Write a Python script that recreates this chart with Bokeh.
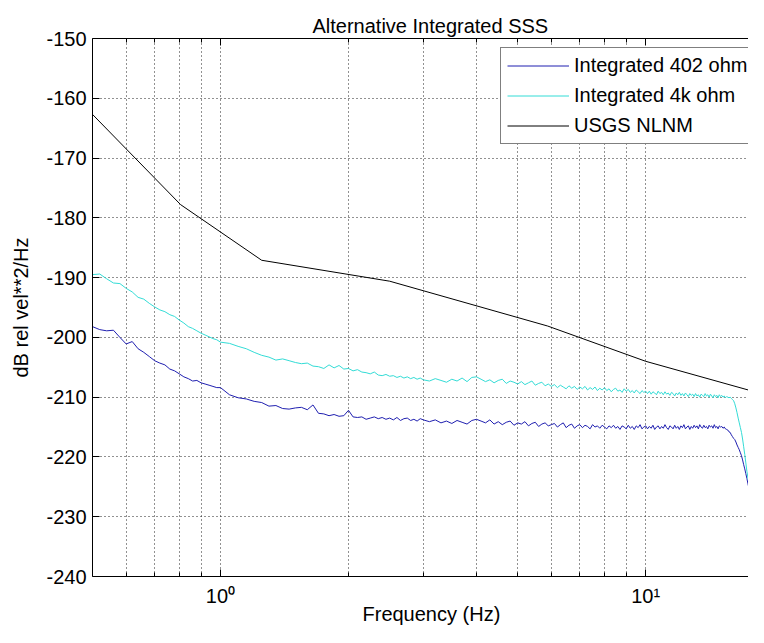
from bokeh.plotting import figure
from bokeh.models import FixedTicker, LogAxis, Legend, LegendItem, Title
from bokeh.embed import file_html
from bokeh.resources import INLINE

TITLE = "Alternative Integrated SSS"
X_LABEL = "Frequency (Hz)"
Y_LABEL = "dB rel vel**2/Hz"
X_MIN, X_MAX = 0.5, 17.45
Y_MIN, Y_MAX = -240, -150
Y_TICKS = [-240, -230, -220, -210, -200, -190, -180, -170, -160, -150]
X_MAJOR = [1, 10]
X_MINOR = [0.6, 0.7, 0.8, 0.9, 2, 3, 4, 5, 6, 7, 8, 9]
X_TICK_LABELS = {1: "10\u2070", 10: "10\u00b9"}
SERIES_NAMES = ["Integrated 402 ohm", "Integrated 4k ohm", "USGS NLNM"]

FREQ_LOW = [0.50, 0.52, 0.54, 0.56, 0.58, 0.60, 0.62, 0.64, 0.66, 0.68,
            0.70, 0.72, 0.74, 0.76, 0.78, 0.80, 0.82, 0.84, 0.86, 0.88,
            0.90, 0.92, 0.94, 0.96, 0.98, 1.00]
FREQ_MID = [1.05, 1.10, 1.15, 1.20, 1.25, 1.30, 1.35, 1.40, 1.45, 1.50,
            1.55, 1.60, 1.65, 1.70, 1.75, 1.80, 1.85, 1.90, 1.95, 2.00,
            2.05, 2.10, 2.15, 2.20, 2.25, 2.30, 2.35, 2.40, 2.45, 2.50,
            2.55, 2.60, 2.65, 2.70, 2.75, 2.80, 2.85, 2.90, 2.95, 3.00]
FREQ_HIGH = [3.1, 3.2, 3.3, 3.4, 3.5, 3.6, 3.7, 3.8, 3.9, 4.0,
             4.1, 4.2, 4.3, 4.4, 4.5, 4.6, 4.7, 4.8, 4.9, 5.0,
             5.1, 5.2, 5.3, 5.4, 5.5, 5.6, 5.7, 5.8, 5.9, 6.0,
             6.1, 6.2, 6.3, 6.4, 6.5, 6.6, 6.7, 6.8, 6.9, 7.0,
             7.1, 7.2, 7.3, 7.4, 7.5, 7.6, 7.7, 7.8, 7.9, 8.0,
             8.1, 8.2, 8.3, 8.4, 8.5, 8.6, 8.7, 8.8, 8.9, 9.0,
             9.1, 9.2, 9.3, 9.4, 9.5, 9.6, 9.7, 9.8, 9.9, 10.0,
             10.1, 10.2, 10.3, 10.4, 10.5, 10.6, 10.7, 10.8, 10.9, 11.0,
             11.1, 11.2, 11.3, 11.4, 11.5, 11.6, 11.7, 11.8, 11.9, 12.0,
             12.1, 12.2, 12.3, 12.4, 12.5, 12.6, 12.7, 12.8, 12.9, 13.0,
             13.1, 13.2, 13.3, 13.4, 13.5, 13.6, 13.7, 13.8, 13.9, 14.0,
             14.1, 14.2, 14.3, 14.4, 14.5, 14.6, 14.7, 14.8, 14.9, 15.0,
             15.1, 15.2, 15.3, 15.4, 15.5, 15.6, 15.7, 15.8, 15.9, 16.0,
             16.1, 16.2, 16.3, 16.4, 16.5, 16.6, 16.7, 16.8, 16.9, 17.0,
             17.1, 17.2, 17.3, 17.4, 17.5, 17.6, 17.7, 17.8, 17.9, 18.0,
             18.1, 18.2, 18.3, 18.4, 18.5, 18.6, 18.7, 18.8, 18.9]

R402_LOW = [-198.2, -198.7, -198.9, -198.8, -200.0, -201.1, -200.7, -201.9, -202.5, -203.2,
            -203.9, -204.3, -204.6, -205.3, -205.6, -206.1, -206.6, -206.9, -207.3, -207.2,
            -207.6, -207.8, -208.0, -208.2, -208.4, -208.4]
R402_MID = [-209.6, -210.1, -210.3, -210.7, -210.9, -211.5, -211.4, -211.9, -212.0, -211.8,
            -211.7, -212.1, -211.3, -212.7, -212.8, -213.1, -212.9, -213.2, -213.1, -212.2,
            -213.3, -213.4, -213.3, -213.7, -213.5, -213.3, -213.6, -213.4, -213.7, -213.5,
            -213.8, -213.4, -213.9, -213.6, -213.5, -213.9, -213.7, -214.0, -213.6, -213.8]
R402_HIGH = [-214.1, -213.8, -214.3, -214.0, -214.4, -213.9, -214.2, -214.5, -213.9, -213.7,
             -214.0, -214.3, -213.8, -214.5, -214.1, -214.6, -214.2, -214.0, -214.7, -214.3,
             -214.5, -214.1, -214.8, -214.4, -214.2, -214.9, -214.5, -214.3, -214.8, -214.6,
             -214.4, -215.0, -214.6, -214.3, -215.1, -214.7, -214.5, -215.2, -214.8, -214.6,
             -215.1, -214.7, -214.9, -215.3, -214.6, -215.0, -214.8, -215.2, -214.7, -215.0,
             -215.3, -214.8, -215.1, -214.7, -215.2, -214.9, -215.4, -214.8, -215.0, -215.3,
             -214.7, -215.2, -214.9, -215.4, -214.8, -215.1, -214.6, -215.3, -215.0, -214.8,
             -215.3, -214.9, -215.2, -214.7, -215.4, -215.0, -214.8, -215.3, -214.9, -215.2,
             -214.6, -215.1, -215.4, -214.8, -215.0, -215.3, -214.7, -215.2, -214.9, -215.4,
             -214.8, -215.1, -214.6, -215.3, -215.0, -214.8, -215.4, -214.9, -215.2, -214.7,
             -215.1, -214.8, -215.3, -214.6, -215.0, -215.2, -214.7, -215.1, -214.9, -215.3,
             -214.7, -215.0, -214.8, -215.2, -214.6, -215.1, -214.9, -215.3, -214.8, -215.0,
             -214.9, -215.2, -215.0, -215.3, -215.4, -215.5, -215.8, -215.9, -216.3, -216.6,
             -216.9, -217.1, -217.5, -218.0, -218.4, -218.8, -219.3, -219.8, -220.5, -221.3,
             -222.0, -222.8, -223.6, -224.5, -225.3, -226.1, -226.9, -227.6, -228.1, -228.5,
             -228.8, -229.0, -229.1, -229.2, -229.3, -229.3, -229.4, -229.5, -229.5]

R4K_LOW = [-189.5, -189.4, -190.2, -190.9, -191.0, -191.8, -192.4, -193.3, -193.6, -194.3,
           -194.9, -195.4, -195.7, -196.2, -196.5, -197.1, -197.6, -198.2, -198.5, -198.9,
           -199.3, -199.6, -199.9, -200.2, -200.4, -200.8]
R4K_MID = [-201.0, -201.5, -201.9, -202.5, -203.0, -203.3, -203.8, -203.6, -203.9, -204.2,
           -204.4, -204.3, -204.8, -204.9, -205.2, -204.6, -205.1, -204.7, -205.3, -205.2,
           -205.6, -205.4, -205.8, -205.9, -206.1, -205.8, -206.3, -206.4, -206.2, -206.5,
           -206.4, -206.7, -206.5, -206.8, -206.6, -206.9, -206.7, -207.0, -206.8, -207.1]
R4K_HIGH = [-207.3, -206.9, -207.2, -207.5, -207.0, -207.3, -206.8, -207.4, -206.7, -206.6,
            -207.0, -207.4, -207.1, -207.6, -207.2, -207.0, -207.7, -207.3, -207.5, -207.8,
            -207.4, -207.9, -207.6, -207.3, -208.0, -207.7, -207.5, -208.1, -207.8, -208.2,
            -207.9, -208.4, -208.0, -208.3, -208.6, -208.1, -208.5, -208.2, -208.7, -208.3,
            -208.6, -208.2, -208.8, -208.4, -208.7, -208.3, -208.9, -208.5, -208.8, -208.4,
            -208.9, -208.6, -209.1, -208.7, -208.5, -209.0, -208.8, -209.2, -208.6, -209.0,
            -208.7, -209.2, -208.9, -209.3, -208.8, -209.1, -209.4, -208.9, -209.2, -209.0,
            -209.4, -209.0, -209.5, -209.1, -209.3, -209.6, -209.0, -209.4, -209.2, -209.6,
            -209.1, -209.5, -209.3, -209.7, -209.2, -209.4, -209.8, -209.3, -209.6, -209.2,
            -209.7, -209.4, -209.8, -209.3, -209.6, -209.9, -209.4, -209.7, -209.5, -209.9,
            -209.4, -209.8, -209.6, -210.0, -209.5, -209.7, -209.9, -209.4, -209.8, -209.6,
            -210.0, -209.5, -209.8, -210.1, -209.6, -209.9, -209.7, -210.1, -209.6, -209.9,
            -209.7, -210.0, -209.8, -210.1, -209.9, -210.0, -210.1, -210.0, -210.2, -210.4,
            -210.6, -211.1, -211.8, -212.6, -213.5, -214.3, -215.1, -215.9, -217.0, -218.3,
            -219.6, -221.0, -222.4, -223.5, -224.4, -225.3, -226.1, -226.8, -227.4, -227.9,
            -228.3, -228.6, -228.8, -228.9, -229.0, -229.1, -229.2, -229.2, -229.3]

NLNM_FREQ = [0.5, 0.806, 1.25, 2.5, 5.88, 10.0, 18.9]
NLNM_DB = [-162.7, -177.8, -187.1, -190.6, -198.1, -204.0, -209.5]

FREQ = FREQ_LOW + FREQ_MID + FREQ_HIGH
R402 = R402_LOW + R402_MID + R402_HIGH
R4K = R4K_LOW + R4K_MID + R4K_HIGH

FONT = "Liberation Sans"
FS = "20px"
GRID_COLOR = "#222222"

p = figure(width=748, height=627, x_axis_type="log",
           x_range=(X_MIN, X_MAX), y_range=(Y_MIN, Y_MAX),
           output_backend="svg", toolbar_location=None,
           min_border_left=92, min_border_right=0,
           min_border_top=38, min_border_bottom=51)
p.background_fill_color = "white"
p.border_fill_color = "white"
p.outline_line_color = None

p.title.text = TITLE
p.title.align = "left"
p.title.vertical_align = "top"
p.title.offset = 220
p.title.standoff = 0
p.title.text_font = FONT
p.title.text_font_size = FS
p.title.text_font_style = "normal"
p.title.text_color = "black"

xticker = FixedTicker(ticks=X_MAJOR, minor_ticks=X_MINOR)
yticker = FixedTicker(ticks=Y_TICKS, minor_ticks=[])

for ax in p.xaxis:
    ax.ticker = xticker
    ax.major_label_overrides = X_TICK_LABELS
for ax in p.yaxis:
    ax.ticker = yticker
    ax.major_label_overrides = {t: str(t) for t in Y_TICKS}
    ax.axis_label = Y_LABEL

common = dict(axis_line_color="black", major_tick_line_color="black",
              minor_tick_line_color="black")
p.xaxis.update(major_tick_in=7, major_tick_out=0, minor_tick_in=4, minor_tick_out=0,
               major_label_standoff=8,
               major_label_text_font=FONT, major_label_text_font_size=FS,
               major_label_text_color="black",
               **common)
p.yaxis.update(major_tick_in=7, major_tick_out=0, minor_tick_in=0, minor_tick_out=0,
               major_label_standoff=6, axis_label_standoff=11,
               major_label_text_font=FONT, major_label_text_font_size=FS,
               major_label_text_color="black",
               axis_label_text_font=FONT, axis_label_text_font_size=FS,
               axis_label_text_font_style="normal", axis_label_text_color="black",
               **common)

# top edge of the box with inward ticks; its hidden labels lift the title
top = LogAxis(ticker=xticker, major_tick_in=7, major_tick_out=0,
              minor_tick_in=4, minor_tick_out=0,
              major_label_text_font_size="2px", major_label_text_alpha=0,
              major_label_standoff=10, **common)
p.add_layout(top, "above")

xlabel = Title(text=X_LABEL, align="left", vertical_align="top",
               offset=270, standoff=-14,
               text_font=FONT, text_font_size=FS, text_font_style="normal",
               text_color="black")
p.add_layout(xlabel, "below")

p.xgrid.ticker = xticker
p.ygrid.ticker = yticker
p.xgrid.grid_line_color = GRID_COLOR
p.xgrid.grid_line_dash = "1 3"
p.xgrid.minor_grid_line_color = GRID_COLOR
p.xgrid.minor_grid_line_dash = "1 3"
p.ygrid.grid_line_color = GRID_COLOR
p.ygrid.grid_line_dash = "1 3"

r1 = p.line(FREQ, R402, line_color="#1f1fb0", line_width=1)
r2 = p.line(FREQ, R4K, line_color="#33dcd6", line_width=1)
r3 = p.line(NLNM_FREQ, NLNM_DB, line_color="black", line_width=1)

legend = Legend(items=[LegendItem(label=SERIES_NAMES[0], renderers=[r1]),
                       LegendItem(label=SERIES_NAMES[1], renderers=[r2]),
                       LegendItem(label=SERIES_NAMES[2], renderers=[r3])],
                location=(408, 432), padding=6, spacing=7,
                glyph_width=62, glyph_height=23, label_height=23,
                label_standoff=5, margin=0,
                label_text_font=FONT, label_text_font_size=FS,
                label_text_color="black",
                border_line_color="black", border_line_width=1,
                background_fill_color="white", background_fill_alpha=1)
p.add_layout(legend)

open("out.html", "w").write(file_html(p, INLINE))
